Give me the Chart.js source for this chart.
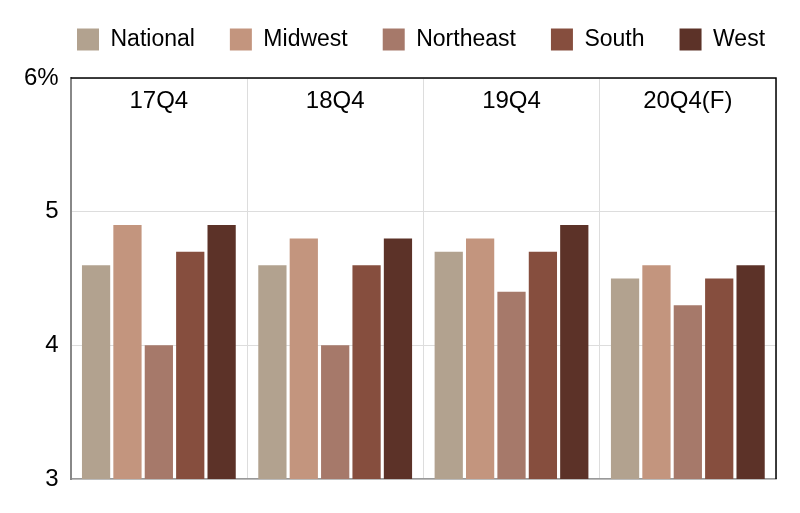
<!DOCTYPE html>
<html>
<head>
<meta charset="utf-8">
<script src="https://cdn.jsdelivr.net/npm/chart.js@4"></script>
<style>
  html, body { margin: 0; padding: 0; background: #fff; }
  #wrap { width: 800px; height: 513px; }
</style>
</head>
<body>
<div id="wrap"><canvas id="vacancyChart"></canvas></div>
<script>
const quarters = ["17Q4", "18Q4", "19Q4", "20Q4(F)"];
const national = [4.6, 4.6, 4.7, 4.5];
const midwest = [4.9, 4.8, 4.8, 4.6];
const northeast = [4.0, 4.0, 4.4, 4.3];
const south = [4.7, 4.6, 4.7, 4.5];
const west = [4.9, 4.8, 4.9, 4.6];

const colors = [
  "#b2a28f", // National
  "#c3957e", // Midwest
  "#a6796a", // Northeast
  "#864e3e", // South
  "#5c3228", // West
];

const series = [
  { name: "National", values: national },
  { name: "Midwest", values: midwest },
  { name: "Northeast", values: northeast },
  { name: "South", values: south },
  { name: "West", values: west },
];

const fontFamily = "'Liberation Sans', Arial, sans-serif";

// legend: fixed block height, nudged up and to the right
const legendPlacement = {
  id: "legendPlacement",
  beforeInit(chart) {
    const fit = chart.legend.fit;
    chart.legend.fit = function () {
      fit.bind(chart.legend)();
      this.height = 78;
    };
  },
  afterLayout(chart) {
    const lg = chart.legend;
    lg.top -= 7;
    lg.left += 27;
    lg.right += 27;
  },
};

// category names sit inside the plot, near the top
const quarterLabels = {
  id: "quarterLabels",
  afterDatasetsDraw(chart) {
    const { ctx, chartArea, scales } = chart;
    ctx.save();
    ctx.font = "24px " + fontFamily;
    ctx.fillStyle = "#000";
    ctx.textAlign = "center";
    ctx.textBaseline = "middle";
    quarters.forEach((q, i) => {
      ctx.fillText(q, scales.x.getPixelForValue(i), chartArea.top + 23);
    });
    ctx.restore();
  },
};

// black frame on top and right
const frame = {
  id: "frame",
  afterDraw(chart) {
    const { ctx, chartArea } = chart;
    ctx.save();
    ctx.strokeStyle = "#000";
    ctx.lineWidth = 1.5;
    ctx.beginPath();
    ctx.moveTo(chartArea.left, chartArea.top);
    ctx.lineTo(chartArea.right, chartArea.top);
    ctx.lineTo(chartArea.right, chartArea.bottom);
    ctx.stroke();
    ctx.restore();
  },
};

let datasets = [];
let i = 0;
for (const s of series) {
  datasets.push({
    label: s.name,
    data: s.values,
    backgroundColor: colors[i],
    borderWidth: 0,
    barPercentage: 0.9,
    categoryPercentage: 0.89,
  });
  i++;
}

new Chart(document.getElementById("vacancyChart"), {
  type: "bar",
  data: { labels: quarters, datasets },
  options: {
    responsive: true,
    maintainAspectRatio: false,
    animation: false,
    layout: { padding: { left: 12, right: 24, bottom: 34, top: 0 } },
    plugins: {
      tooltip: { enabled: false },
      legend: {
        position: "top",
        labels: {
          boxWidth: 22,
          boxHeight: 22,
          padding: 35,
          color: "#000",
          font: { size: 23, family: fontFamily },
        },
      },
    },
    scales: {
      x: {
        grid: { offset: true, color: "#dddddd", drawTicks: false },
        border: { color: "#999999", width: 1.5 },
        ticks: { display: false },
      },
      y: {
        min: 3,
        max: 6,
        grid: { color: "#dddddd", drawTicks: false },
        border: { color: "#888888", width: 2 },
        ticks: {
          stepSize: 1,
          padding: 12,
          color: "#000",
          font: { size: 24, family: fontFamily },
          callback: (v) => (v === 6 ? v + "%" : v),
        },
      },
    },
  },
  plugins: [legendPlacement, quarterLabels, frame],
});
</script>
</body>
</html>
